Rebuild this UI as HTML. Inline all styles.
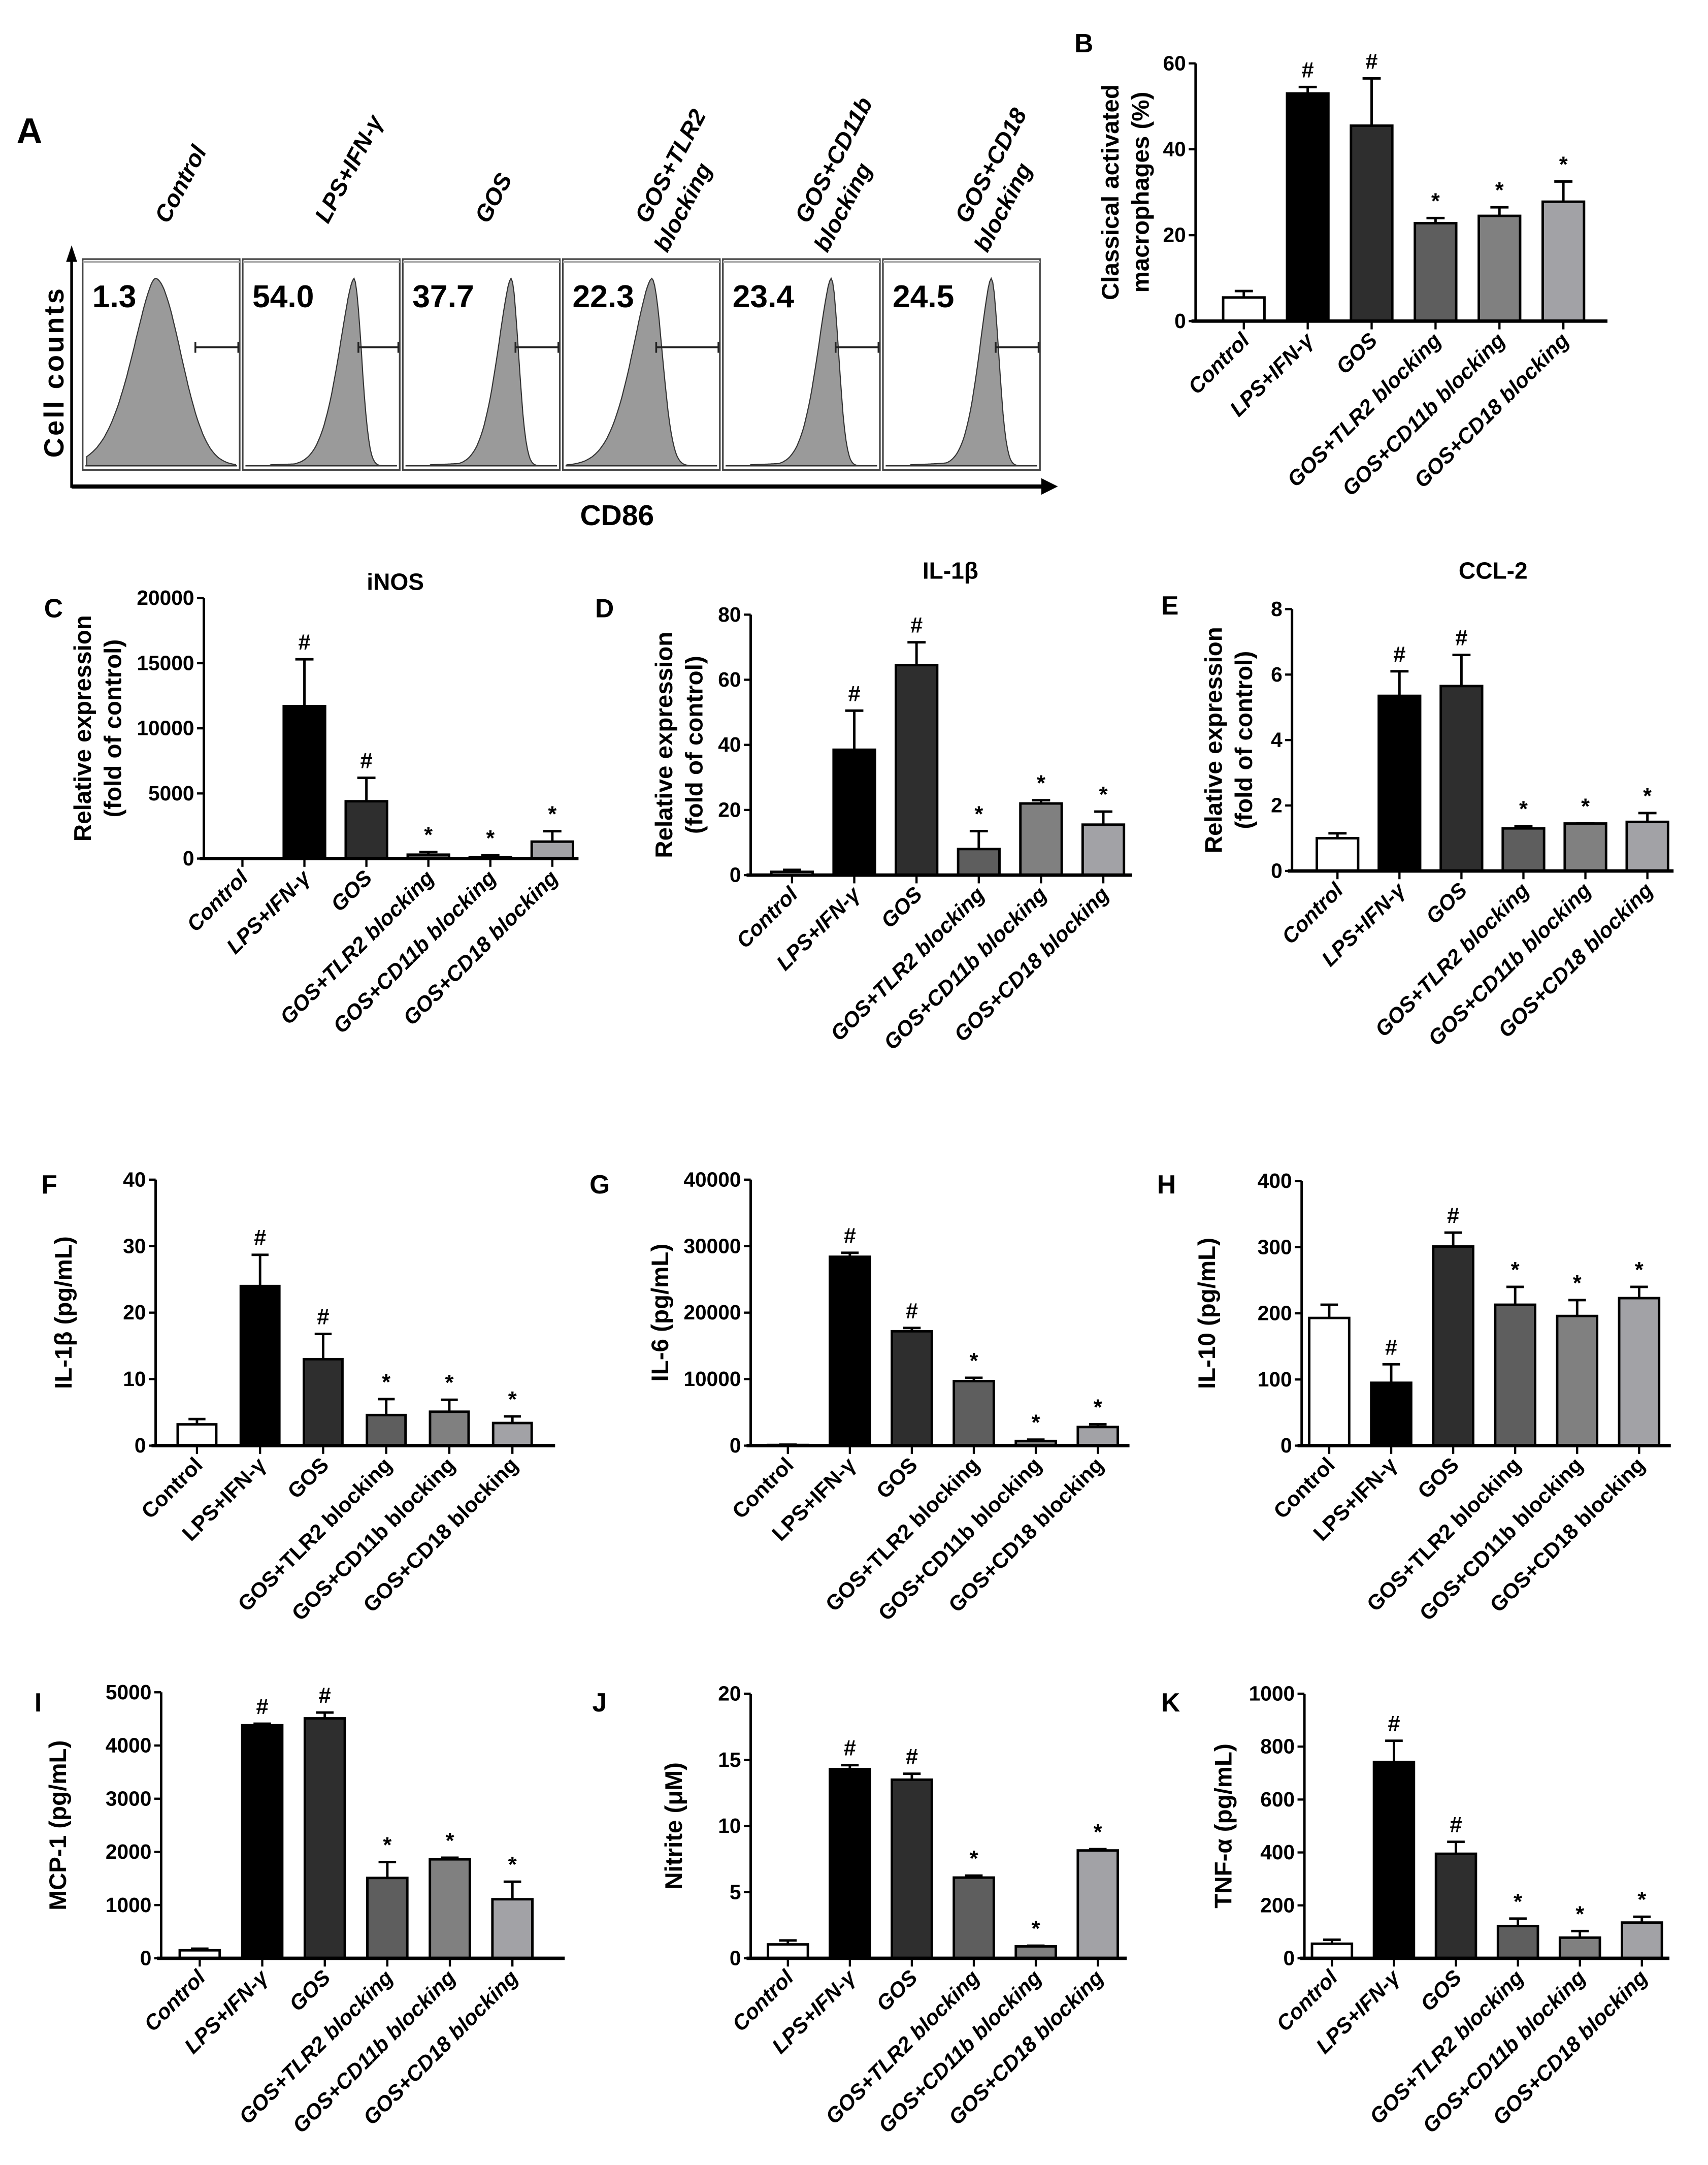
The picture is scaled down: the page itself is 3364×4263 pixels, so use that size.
<!DOCTYPE html>
<html><head><meta charset="utf-8"><style>
html,body{margin:0;padding:0;background:#fff;}
svg{display:block;}
text{font-family:"Liberation Sans",Arial,sans-serif;font-weight:bold;fill:#000;}
.tick{font-family:"Liberation Sans Narrow","Liberation Sans",sans-serif;font-size:15px;}
</style></head><body>
<svg id="fig" xmlns="http://www.w3.org/2000/svg" width="3364" height="4263" viewBox="0 0 1240 1571" preserveAspectRatio="none">
<g id="panelA">
<text x="12" y="104" style="font-size:26px">A</text>
<text transform="translate(46,270) rotate(-90)" text-anchor="middle" style="font-size:20px;letter-spacing:1.5px">Cell counts</text>
<text x="448" y="381" text-anchor="middle" class="tick" style="font-size:21px">CD86</text>
<line x1="52" y1="354" x2="52" y2="185" stroke="#000" stroke-width="2"/>
<polygon points="52,178 48,190 56,190" fill="#000"/>
<line x1="52" y1="353" x2="758" y2="353" stroke="#000" stroke-width="3"/>
<polygon points="768,353 756,347 756,359" fill="#000"/>
</g>
<g id="charts"></g>
</svg>
<script>
const NS="http://www.w3.org/2000/svg";
const fig=document.getElementById('fig');
const panelA=document.getElementById('panelA');
const chartsG=document.getElementById('charts');
function mk(tag,attrs,parent){const e=document.createElementNS(NS,tag);for(const k in attrs)e.setAttribute(k,attrs[k]);parent.appendChild(e);return e;}

// ---- Panel A data ----
const flowGroups=["Control","LPS+IFN-γ","GOS","GOS+TLR2 blocking","GOS+CD11b blocking","GOS+CD18 blocking"];
const flowPercents=["1.3","54.0","37.7","22.3","23.4","24.5"];
const flowPeakPos=[0.46,0.72,0.70,0.57,0.70,0.70];
const flowLeftW=[0.15,0.10,0.09,0.13,0.09,0.08];
const flowRightW=[0.17,0.05,0.05,0.07,0.05,0.05];
const flowTitles=[["Control"],["LPS+IFN-γ"],["GOS"],["GOS+TLR2","blocking"],["GOS+CD11b","blocking"],["GOS+CD18","blocking"]];

const boxX0=60, boxW=114, boxGap=2.2, boxTop=188, boxBot=341;
flowGroups.forEach((g,i)=>{
  const x=boxX0+i*(boxW+boxGap);
  const r=mk('rect',{x:x,y:boxTop,width:boxW,height:boxBot-boxTop,fill:'#fff',stroke:'#444','stroke-width':1.2},panelA);
  
  
  mk('line',{x1:x,y1:boxTop+2,x2:x+boxW,y2:boxTop+2,stroke:'#aaa','stroke-width':1.5},panelA);
  const base=boxBot-3, peakY=boxTop+14, pk=flowPeakPos[i], lw=flowLeftW[i], rw=flowRightW[i];
  let d='M'+(x+3)+','+base;
  for(let t=0;t<=1.0001;t+=0.01){
    const w=t<pk?lw:rw; const z=(t-pk)/w;
    let h=t<pk?Math.exp(-Math.pow(Math.abs(z),1.6)/2):Math.exp(-z*z/2);
    if(t<pk) h=Math.max(h, i===0?0:0.05*Math.exp(-(pk-t)/0.25)*(t>0.15?1:0));
    d+=' L'+(x+3+t*(boxW-6)).toFixed(1)+','+(base-h*(base-peakY)).toFixed(1);
  }
  d+=' L'+(x+boxW-3)+','+base+' Z';
  const p=mk('path',{d:d,fill:'#9a9a9a',stroke:'#333','stroke-width':0.8},panelA);
  
  
  mk('line',{x1:x+2,y1:base,x2:x+boxW-2,y2:base,stroke:'#333','stroke-width':1},panelA);
  const gx=x+3+(i===0?0.73:pk+0.03)*(boxW-6);
  const gl=mk('path',{d:`M${gx},248 v8 M${gx},252 H${x+boxW-1} M${x+boxW-1},248 v8`,stroke:'#222','stroke-width':1.3,fill:'none'},panelA);
  
  
  const t=mk('text',{x:x+7,y:223,class:'tick'},panelA);
  t.setAttribute('style','font-size:23px');
  t.textContent=flowPercents[i];
  
  
  const tg=mk('text',{transform:`translate(${x+62},${163}) rotate(-62)`,style:'font-size:17px;font-style:italic'},panelA);
  
  
  flowTitles[i].forEach((ln,k)=>{const s=mk('tspan',{x:k?-12:0,y:k?22:0},tg);s.textContent=ln;});
});

// ---- bar chart data ----
const categories=["Control","LPS+IFN-γ","GOS","GOS+TLR2 blocking","GOS+CD11b blocking","GOS+CD18 blocking"];
const barColors=["#ffffff","#000000","#2e2e2e","#5e5e5e","#808080","#a2a2a6"];
const sigMarks=["","#","#","*","*","*"];

const bValues=[5.5,53,45.5,22.8,24.5,27.8];
const bErrTop=[7,54.5,56.5,24,26.5,32.5];
const bTicks=[0,20,40,60];

const cValues=[20,11700,4400,300,100,1300];
const cErrTop=[40,15300,6200,500,250,2100];
const cTicks=[0,5000,10000,15000,20000];

const dValues=[1,38.5,64.5,8,22,15.5];
const dErrTop=[1.6,50.5,71.5,13.5,23,19.5];
const dTicks=[0,20,40,60,80];

const eValues=[1,5.35,5.65,1.3,1.45,1.5];
const eErrTop=[1.15,6.1,6.6,1.37,1.45,1.77];
const eTicks=[0,2,4,6,8];

const fValues=[3.2,24,13,4.6,5.1,3.4];
const fErrTop=[4,28.7,16.8,7,6.9,4.4];
const fTicks=[0,10,20,30,40];

const gValues=[100,28400,17200,9700,700,2800];
const gErrTop=[150,29000,17700,10200,900,3200];
const gTicks=[0,10000,20000,30000,40000];

const hValues=[193,95,301,213,196,223];
const hErrTop=[213,123,322,240,220,240];
const hTicks=[0,100,200,300,400];

const iValues=[150,4380,4510,1510,1860,1110];
const iErrTop=[180,4410,4620,1810,1890,1440];
const iTicks=[0,1000,2000,3000,4000,5000];

const jValues=[1.05,14.3,13.5,6.1,0.9,8.15];
const jErrTop=[1.35,14.6,13.95,6.25,0.95,8.25];
const jTicks=[0,5,10,15,20];

const kValues=[55,742,395,122,78,135];
const kErrTop=[70,822,440,150,103,157];
const kTicks=[0,200,400,600,800,1000];

function barChart(o){
  const g=mk('g',{},chartsG);
  
  
  const max=o.ticks[o.ticks.length-1];
  const yS=v=>o.y0-(v/max)*(o.y0-o.yTop);
  const xS=i=>o.c0+i*o.step;
  const L=mk('text',{x:o.lx,y:o.ly,style:'font-size:19px'},g);L.textContent=o.id.toUpperCase();
  
  
  if(o.title){const T=mk('text',{x:o.tx,y:o.ty,'text-anchor':'middle',style:'font-size:17px'},g);T.textContent=o.title;
    
    }
  const yl=mk('text',{transform:`translate(${o.ylx},${(o.y0+o.yTop)/2}) rotate(-90)`,'text-anchor':'middle',style:'font-size:17.5px'},g);
  
  
  o.ylabel.forEach((ln,k)=>{const s=mk('tspan',{x:0,y:k*22},yl);s.textContent=ln;});
  o.vals.forEach((v,i)=>{
    const cx=xS(i), w=o.bw;
    const e=o.err[i];
    const el=mk('path',{d:`M${cx},${yS(v)} V${yS(e)} M${cx-w*0.22},${yS(e)} H${cx+w*0.22}`,stroke:'#000','stroke-width':1.8,fill:'none'},g);
    
    
    const r=mk('rect',{x:cx-w/2,y:yS(v),width:w,height:o.y0-yS(v),fill:barColors[i],stroke:'#000','stroke-width':1.8},g);
    
    
    if(sigMarks[i]){const s=mk('text',{x:cx,y:yS(e)-7,'text-anchor':'middle',class:'tick',style:'font-size:16px'},g);s.textContent=sigMarks[i];
      
      }
    mk('line',{x1:cx,y1:o.y0,x2:cx,y2:o.y0+6,stroke:'#000','stroke-width':1.6},g);
    const t=mk('text',{transform:`translate(${cx+5},${o.y0+15}) rotate(-45)`,'text-anchor':'end',style:'font-size:15.5px'+(o.italic?';font-style:italic':'')},g);
    t.textContent=categories[i];
    
    
  });
  const ya=mk('line',{x1:o.x0,y1:o.yTop,x2:o.x0,y2:o.y0,stroke:'#000','stroke-width':1.8},g);
  
  
  const xa=mk('line',{x1:o.x0-3,y1:o.y0,x2:o.right,y2:o.y0,stroke:'#000','stroke-width':2.5},g);
  
  
  o.ticks.forEach(tv=>{
    mk('line',{x1:o.x0-5,y1:yS(tv),x2:o.x0,y2:yS(tv),stroke:'#000','stroke-width':1.6},g);
    const t=mk('text',{x:o.x0-7,y:yS(tv)+5,'text-anchor':'end',class:'tick'},g);t.textContent=tv;
    
    
  });
}

barChart({id:'b',x0:868,y0:233,yTop:46,right:1167,c0:903,step:46.4,bw:30,ticks:bTicks,vals:bValues,err:bErrTop,italic:true,
  ylabel:["Classical activated","macrophages (%)"],ylx:812,lx:780,ly:38});
barChart({id:'c',x0:148,y0:623,yTop:434,right:420,c0:176,step:45,bw:30,ticks:cTicks,vals:cValues,err:cErrTop,italic:true,
  ylabel:["Relative expression","(fold of control)"],ylx:66,lx:32,ly:448,title:"iNOS",tx:287,ty:428});
barChart({id:'d',x0:545,y0:635,yTop:446,right:822,c0:575,step:45.2,bw:30,ticks:dTicks,vals:dValues,err:dErrTop,italic:true,
  ylabel:["Relative expression","(fold of control)"],ylx:488,lx:432,ly:448,title:"IL-1β",tx:690,ty:420});
barChart({id:'e',x0:938,y0:632,yTop:442,right:1215,c0:971,step:45,bw:30,ticks:eTicks,vals:eValues,err:eErrTop,italic:true,
  ylabel:["Relative expression","(fold of control)"],ylx:887,lx:843,ly:446,title:"CCL-2",tx:1084,ty:420});
barChart({id:'f',x0:113,y0:1049,yTop:856,right:403,c0:143,step:45.8,bw:28,ticks:fTicks,vals:fValues,err:fErrTop,italic:false,
  ylabel:["IL-1β (pg/mL)"],ylx:52,lx:30,ly:866});
barChart({id:'g',x0:545,y0:1049,yTop:856,right:820,c0:572,step:45,bw:29,ticks:gTicks,vals:gValues,err:gErrTop,italic:false,
  ylabel:["IL-6 (pg/mL)"],ylx:485,lx:428,ly:866});
barChart({id:'h',x0:945,y0:1049,yTop:857,right:1213,c0:965,step:45,bw:29,ticks:hTicks,vals:hValues,err:hErrTop,italic:false,
  ylabel:["IL-10 (pg/mL)"],ylx:882,lx:840,ly:866});
barChart({id:'i',x0:117,y0:1421,yTop:1228,right:410,c0:145,step:45.4,bw:29,ticks:iTicks,vals:iValues,err:iErrTop,italic:true,
  ylabel:["MCP-1 (pg/mL)"],ylx:48,lx:25,ly:1242});
barChart({id:'j',x0:545,y0:1421,yTop:1229,right:818,c0:572,step:45,bw:29,ticks:jTicks,vals:jValues,err:jErrTop,italic:true,
  ylabel:["Nitrite (μM)"],ylx:495,lx:430,ly:1242});
barChart({id:'k',x0:947,y0:1421,yTop:1229,right:1212,c0:967,step:45,bw:29,ticks:kTicks,vals:kValues,err:kErrTop,italic:true,
  ylabel:["TNF-α (pg/mL)"],ylx:894,lx:843,ly:1242});
</script>
</body></html>
